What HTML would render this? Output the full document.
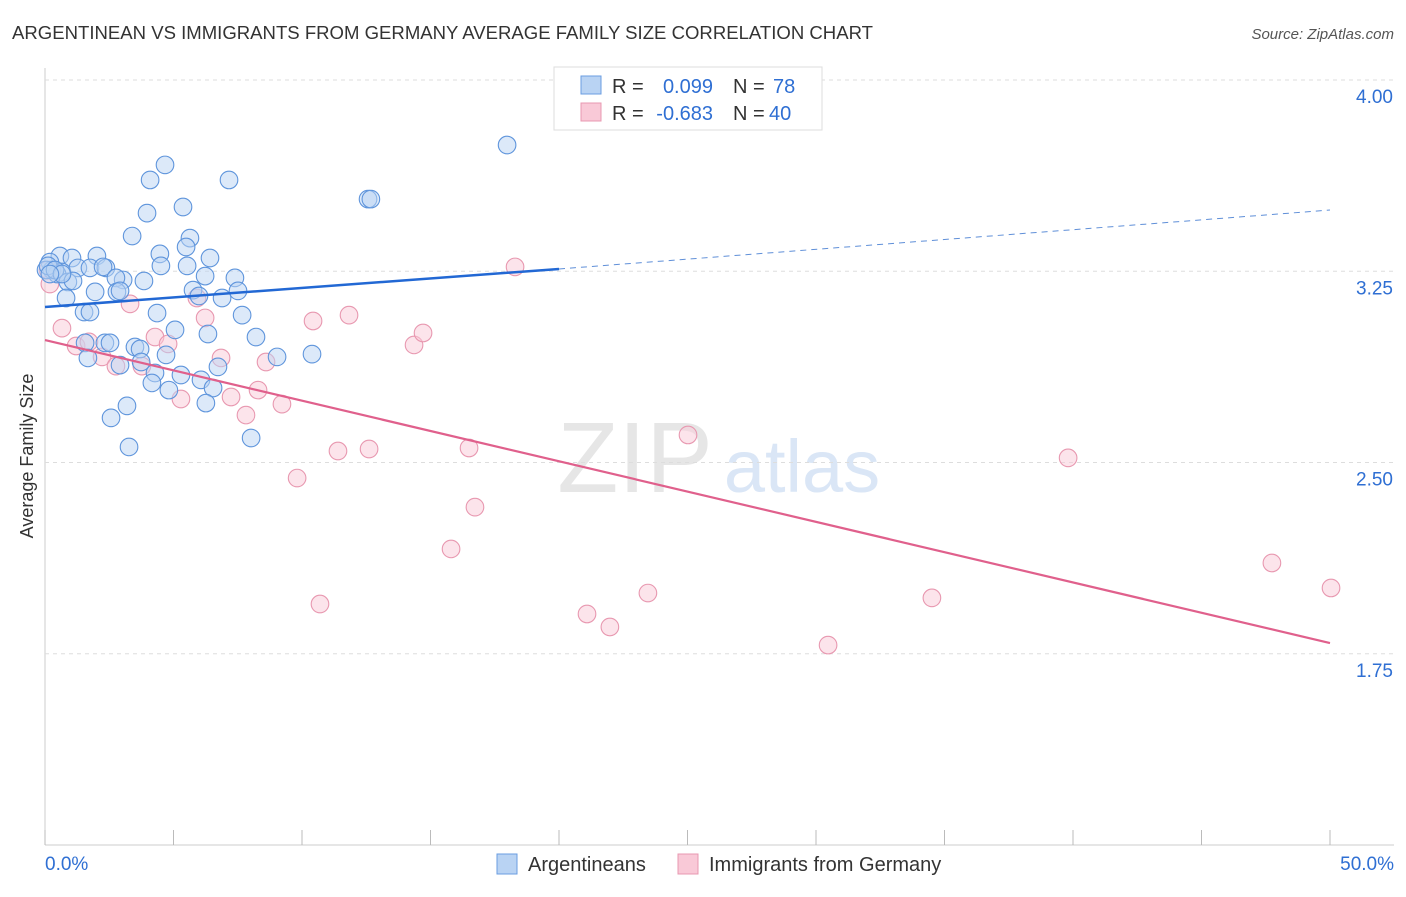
<!DOCTYPE html>
<html><head><meta charset="utf-8"><style>
body{margin:0;background:#fff;font-family:"Liberation Sans",sans-serif;}
svg text{font-family:"Liberation Sans",sans-serif;}
</style></head><body>
<svg id="c" width="1406" height="892" xmlns="http://www.w3.org/2000/svg">
<text x="12" y="39" font-size="18" fill="#333" textLength="861" lengthAdjust="spacingAndGlyphs">ARGENTINEAN VS IMMIGRANTS FROM GERMANY AVERAGE FAMILY SIZE CORRELATION CHART</text>
<text x="1394" y="39" font-size="15" fill="#555" text-anchor="end" font-style="italic">Source: ZipAtlas.com</text>
<text x="33" y="456" font-size="18" fill="#333" text-anchor="middle" transform="rotate(-90 33 456)">Average Family Size</text>
<g><text x="635" y="492" font-size="100" fill="#e6e6e6" text-anchor="middle" font-family="Liberation Serif">ZIP</text><text x="802" y="492" font-size="74" fill="#dae6f6" text-anchor="middle">atlas</text></g>
<g id="grid"></g><g id="marks"></g>
<g>
<rect x="554" y="67" width="268" height="63" fill="#fff" stroke="#ddd"/>
<rect x="581" y="76" width="20" height="18" fill="#b9d3f3" stroke="#6a9de0"/>
<rect x="581" y="103" width="20" height="18" fill="#f9c9d7" stroke="#e898b0"/>
<text x="612" y="93" font-size="20" fill="#333">R =</text><text x="713" y="93" font-size="20" fill="#2f6fd3" text-anchor="end">0.099</text><text x="733" y="93" font-size="20" fill="#333">N =</text><text x="773" y="93" font-size="20" fill="#2f6fd3">78</text>
<text x="612" y="120" font-size="20" fill="#333">R =</text><text x="713" y="120" font-size="20" fill="#2f6fd3" text-anchor="end">-0.683</text><text x="733" y="120" font-size="20" fill="#333">N =</text><text x="769" y="120" font-size="20" fill="#2f6fd3">40</text>
</g>
<g>
<rect x="497" y="854" width="20" height="20" fill="#b9d3f3" stroke="#6a9de0"/>
<text x="528" y="871" font-size="20" fill="#333">Argentineans</text>
<rect x="678" y="854" width="20" height="20" fill="#f9c9d7" stroke="#e898b0"/>
<text x="709" y="871" font-size="20" fill="#333">Immigrants from Germany</text>
</g>
</svg>
<script>
const xTicks=[0,5,10,15,20,25,30,35,40,45,50];
const yTicks=[4.00,3.25,2.50,1.75];
const yTickLabels=["4.00","3.25","2.50","1.75"];
const xLabels=["0.0%","50.0%"];
const blueX=[17.98,4.67,4.09,7.16,12.57,12.68,3.97,5.37,3.39,4.47,5.64,5.49,6.42,4.51,5.53,6.23,7.39,7.51,5.76,5.99,6.89,7.67,4.36,5.06,6.34,8.21,0.58,1.05,2.02,0.19,0.27,0.66,0.47,1.28,1.75,2.37,2.26,3.04,3.85,2.76,0.89,1.09,0.82,1.95,2.80,2.92,1.52,1.75,1.56,1.67,2.33,2.53,3.50,3.70,4.71,3.74,2.92,4.28,4.16,4.82,5.29,6.07,6.54,6.73,6.26,3.19,2.57,3.27,8.02,9.03,10.39,0.04,0.12,0.39,0.66,0.19];
const blueY=[3.745,3.667,3.608,3.608,3.533,3.533,3.478,3.502,3.388,3.318,3.380,3.345,3.302,3.271,3.271,3.231,3.224,3.173,3.176,3.153,3.145,3.078,3.086,3.020,3.004,2.992,3.310,3.302,3.310,3.286,3.255,3.247,3.239,3.263,3.263,3.263,3.267,3.216,3.212,3.224,3.208,3.212,3.145,3.169,3.169,3.173,3.090,3.090,2.969,2.910,2.969,2.969,2.953,2.945,2.922,2.894,2.882,2.851,2.812,2.784,2.843,2.824,2.792,2.875,2.733,2.722,2.675,2.561,2.596,2.914,2.925,3.255,3.271,3.255,3.239,3.239];
const pinkX=[18.29,0.66,1.21,1.71,2.22,2.76,3.31,3.77,4.28,4.79,5.29,5.91,6.23,6.85,7.24,7.82,8.29,8.60,9.22,9.81,10.43,10.70,11.40,11.83,12.61,14.36,14.71,15.80,16.50,16.73,21.09,21.98,23.46,25.02,30.47,34.51,39.81,47.74,50.04,0.19,0.12];
const pinkY=[3.267,3.027,2.957,2.973,2.914,2.878,3.122,2.878,2.992,2.965,2.749,3.145,3.067,2.910,2.757,2.686,2.784,2.894,2.729,2.439,3.055,1.945,2.545,3.078,2.553,2.961,3.008,2.161,2.557,2.325,1.906,1.855,1.988,2.608,1.784,1.969,2.518,2.106,2.008,3.200,3.255];
const blueTrendX=[0,20,50], blueTrendY=[3.110,3.259,3.490];
const pinkTrendX=[0,50], pinkTrendY=[2.980,1.792];
const NS="http://www.w3.org/2000/svg";
const sx=v=>45+v*25.7, sy=v=>80+(4-v)*255;
const grid=document.getElementById('grid'), marks=document.getElementById('marks');
function mk(tag,attrs,parent){const e=document.createElementNS(NS,tag);for(const k in attrs)e.setAttribute(k,attrs[k]);parent.appendChild(e);return e;}
let ax=mk('line',{x1:45,y1:68,x2:45,y2:845,stroke:'#ccc'},grid);


let bx=mk('line',{x1:45,y1:845,x2:1394,y2:845,stroke:'#ccc'},grid);


yTicks.forEach((t,i)=>{
 let g=mk('line',{x1:45,y1:sy(t),x2:1394,y2:sy(t),stroke:'#ddd','stroke-dasharray':'4,4'},grid);
 
 
 let l=mk('text',{x:1393,y:sy(t)+23,'font-size':19,fill:'#2f6fd3','text-anchor':'end'},grid);l.textContent=yTickLabels[i];
 
 
});
xTicks.forEach(t=>{
 let k=mk('line',{x1:sx(t),y1:830,x2:sx(t),y2:845,stroke:'#bbb'},grid);
 
 
});
[[0,'start',45],[1,'end',1394]].forEach(([i,a,x])=>{
 let l=mk('text',{x:x,y:870,'font-size':19,fill:'#2f6fd3','text-anchor':a},grid);l.textContent=xLabels[i];
 
 
});
function pts(X,Y,fill,stroke,name){X.forEach((v,i)=>{
 let c=mk('circle',{cx:sx(v),cy:sy(Y[i]),r:8.8,fill:fill,'fill-opacity':0.5,stroke:stroke,'stroke-width':1.1},marks);
 
 
});}
pts(pinkX,pinkY,'#f9c9d7','#e898b0','germany-point');
pts(blueX,blueY,'#b9d3f3','#5f95dc','argentinean-point');
let b1=mk('line',{x1:sx(blueTrendX[0]),y1:sy(blueTrendY[0]),x2:sx(blueTrendX[1]),y2:sy(blueTrendY[1]),stroke:'#2268d4','stroke-width':2.5},marks);


let b2=mk('line',{x1:sx(blueTrendX[1]),y1:sy(blueTrendY[1]),x2:sx(blueTrendX[2]),y2:sy(blueTrendY[2]),stroke:'#5f8fd8','stroke-width':1,'stroke-dasharray':'6,5'},marks);


let p1=mk('line',{x1:sx(pinkTrendX[0]),y1:sy(pinkTrendY[0]),x2:sx(pinkTrendX[1]),y2:sy(pinkTrendY[1]),stroke:'#e0608c','stroke-width':2.2},marks);


</script>
</body></html>
